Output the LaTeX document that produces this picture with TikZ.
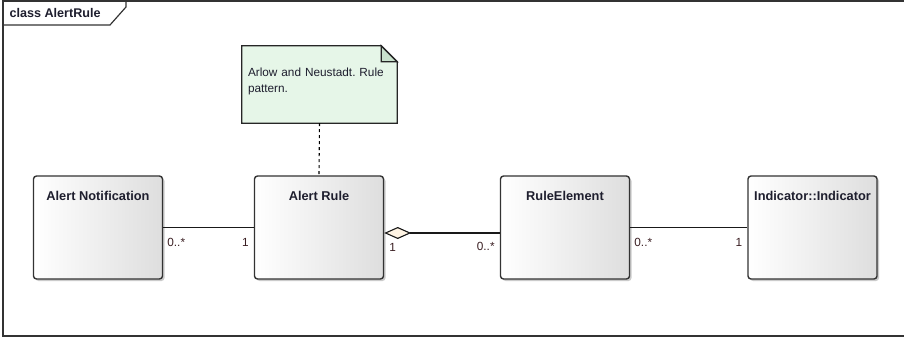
\documentclass[tikz,border=0pt]{standalone}
\usepackage{fontspec}
\setmainfont{Liberation Sans}
\usetikzlibrary{arrows.meta,shadows}
\frenchspacing

\definecolor{ink}{HTML}{1E1E2E}
\definecolor{multink}{HTML}{3A1E22}
\definecolor{notefill}{HTML}{E6F6E8}
\definecolor{notefold}{HTML}{C9E2CD}
\definecolor{diamfill}{HTML}{FFF4E4}
\definecolor{edge}{HTML}{333333}

\tikzset{
  classbox/.style={draw=edge, line width=1.4pt, rounded corners=3pt,
    minimum width=129pt, minimum height=103pt, inner sep=0pt,
    left color=white, right color=black!13,
    drop shadow={shadow xshift=2pt, shadow yshift=-2pt, fill=black!45, opacity=.45}},
  classname/.style={font=\fontsize{12.8}{14}\selectfont\bfseries, text=ink, yshift=-12pt},
  mult/.style={font=\fontsize{11.8}{13}\selectfont, text=multink, inner sep=0pt},
  assoc/.style={draw=black!90, line width=1.4pt},
}

\begin{document}
\begin{tikzpicture}[x=1pt,y=-1pt]
\useasboundingbox (0,0) rectangle (904,339);
\fill[white] (0,0) rectangle (904,339);

% diagram frame and its name tab
\draw[edge, line width=1.4pt] (906,1) -- (3,1) -- (3,336) -- (906,336);
\draw[edge, line width=1.2pt] (3,25) -- (110,25) -- (126,7) -- (126,1);
\node[anchor=west, font=\fontsize{12.6}{14}\selectfont\bfseries, text=ink] (frametitle) at (6,13) {class AlertRule};

% classes
\node[classbox, label={[classname, anchor=north]north:Alert Notification}] (an) at (98,227.5) {};
\node[classbox, label={[classname, anchor=north]north:Alert Rule}] (ar) at (319,227.5) {};
\node[classbox, label={[classname, anchor=north]north:RuleElement}] (re) at (565,227.5) {};
\node[classbox, label={[classname, anchor=north]north:Indicator::Indicator}] (ind) at (812.5,227.5) {};

% note with folded corner
\node[minimum width=155pt, minimum height=77pt, inner sep=0pt] (note) at (319.5,84.5) {};
\filldraw[fill=notefill, draw=black!85, line width=1.3pt]
  (note.north west) -- ([xshift=-16pt]note.north east) -- ([yshift=-16pt]note.north east)
  -- (note.south east) -- (note.south west) -- cycle;
\filldraw[fill=notefold, draw=black!85, line width=1.3pt]
  ([xshift=-16pt]note.north east) -- ([xshift=-16pt,yshift=-16pt]note.north east)
  -- ([yshift=-16pt]note.north east) -- cycle;
\node[anchor=north west, text width=150pt, align=left, inner sep=0pt,
  font=\fontsize{11.8}{16}\selectfont, text=ink] (notetext) at ([xshift=6pt,yshift=-22pt]note.north west)
  {Arlow and Neustadt. Rule pattern.};

% note link
\draw[black, line width=1.1pt, dash pattern=on 3pt off 3pt] (note.south) -- (ar.north);

% associations
\draw[assoc] (an) -- (ar);
\draw[assoc, {Diamond[length=27pt, width=12pt, fill=diamfill, line width=1.1pt]}-]
  ([yshift=-5.5pt]ar.east) -- ([yshift=-5.5pt]re.west);
\draw[assoc] (re) -- (ind);

% multiplicities
\node[mult, anchor=west] (m1) at ([xshift=4pt,yshift=-15pt]an.east) {0..*};
\node[mult, anchor=east] (m2) at ([xshift=-5pt,yshift=-15pt]ar.west) {1};
\node[mult, anchor=west] (m3) at ([xshift=5pt,yshift=-20pt]ar.east) {1};
\node[mult, anchor=east] (m4) at ([xshift=-5pt,yshift=-19pt]re.west) {0..*};
\node[mult, anchor=west] (m5) at ([xshift=4pt,yshift=-15pt]re.east) {0..*};
\node[mult, anchor=east] (m6) at ([xshift=-5pt,yshift=-15pt]ind.west) {1};
\end{tikzpicture}
\end{document}
